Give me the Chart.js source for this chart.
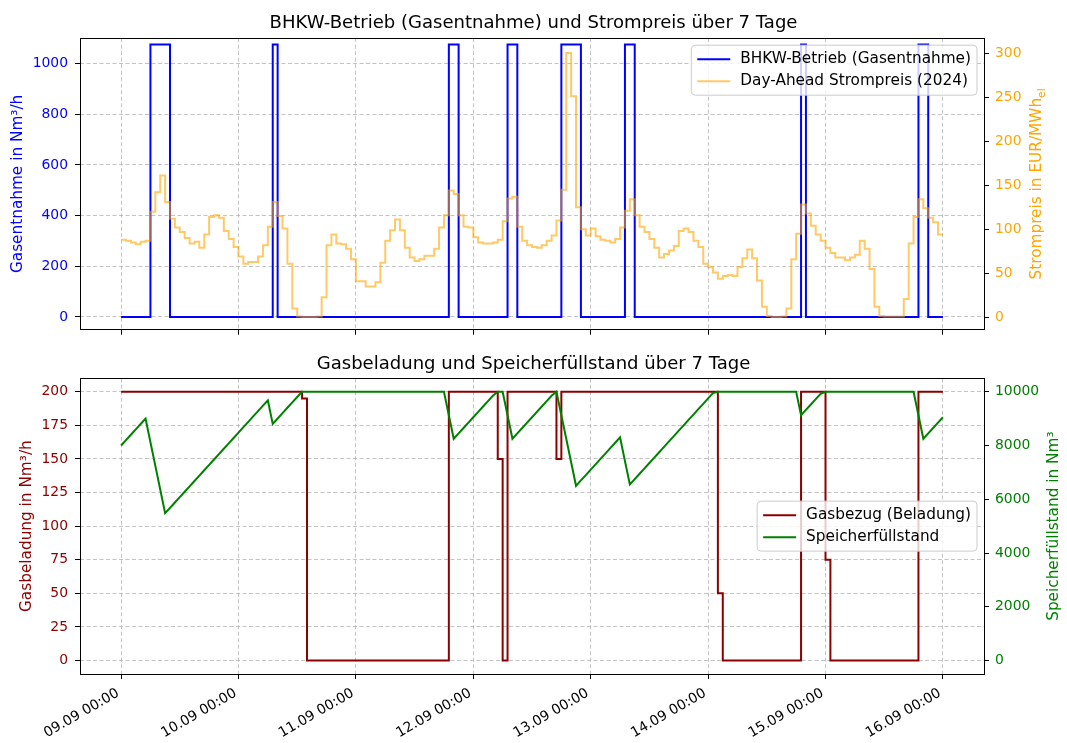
<!DOCTYPE html>
<html>
<head>
<meta charset="utf-8">
<script src="https://cdn.jsdelivr.net/npm/chart.js@4.4.1/dist/chart.umd.min.js"></script>
<style>
  html, body { margin: 0; padding: 0; background: #fff; }
  #wrap { position: relative; width: 1067px; height: 743px; }
  #top { position: absolute; left: 0; top: 0; }
  #bottom { position: absolute; left: 0; top: 345px; }
</style>
</head>
<body>
<div id="wrap">
  <canvas id="top" width="1067" height="345"></canvas>
  <canvas id="bottom" width="1067" height="398"></canvas>
</div>
<script>
// x axis: hours since 09.09 00:00, one value per hour (0..168)
const dayTicks = [0, 24, 48, 72, 96, 120, 144, 168];
const dayLabels = ['09.09 00:00', '10.09 00:00', '11.09 00:00', '12.09 00:00',
                   '13.09 00:00', '14.09 00:00', '15.09 00:00', '16.09 00:00'];

const gasTicks = [0, 200, 400, 600, 800, 1000];
const priceTicks = [0, 50, 100, 150, 200, 250, 300];
const chargeTicks = [0, 25, 50, 75, 100, 125, 150, 175, 200];
const storeTicks = [0, 2000, 4000, 6000, 8000, 10000];

// BHKW gas draw in Nm³/h, one row per day
const bhkw = [
  0, 0, 0, 0, 0, 0, 1075, 1075, 1075, 1075, 0, 0, 0, 0, 0, 0, 0, 0, 0, 0, 0, 0, 0, 0,
  0, 0, 0, 0, 0, 0, 0, 1075, 0, 0, 0, 0, 0, 0, 0, 0, 0, 0, 0, 0, 0, 0, 0, 0,
  0, 0, 0, 0, 0, 0, 0, 0, 0, 0, 0, 0, 0, 0, 0, 0, 0, 0, 0, 1075, 1075, 0, 0, 0,
  0, 0, 0, 0, 0, 0, 0, 1075, 1075, 0, 0, 0, 0, 0, 0, 0, 0, 0, 1075, 1075, 1075, 1075, 0, 0,
  0, 0, 0, 0, 0, 0, 0, 1075, 1075, 0, 0, 0, 0, 0, 0, 0, 0, 0, 0, 0, 0, 0, 0, 0,
  0, 0, 0, 0, 0, 0, 0, 0, 0, 0, 0, 0, 0, 0, 0, 0, 0, 0, 0, 1075, 0, 0, 0, 0,
  0, 0, 0, 0, 0, 0, 0, 0, 0, 0, 0, 0, 0, 0, 0, 0, 0, 0, 0, 1075, 1075, 0, 0, 0,
  0
];

// day-ahead price in EUR/MWh_el
const price = [
  88, 87, 85, 83, 86, 87, 120, 142, 161, 131, 112, 102, 97, 90, 84, 86, 79, 94, 114, 116, 113, 98, 89, 80,
  69, 61, 63, 63, 69, 82, 103, 131, 115, 101, 61, 10, 1, 0.5, 0.5, 0.5, 1, 23, 82, 94, 84, 83, 78, 66,
  41, 41, 35, 35, 40, 62, 87, 99, 111, 99, 79, 68, 64, 66, 70, 70, 78, 102, 116, 144, 140, 116, 103, 102,
  91, 85, 84, 84, 85, 88, 109, 135, 137, 103, 87, 82, 80, 79, 82, 87, 93, 110, 145, 300, 251, 125, 100, 93,
  101, 92, 88, 87, 85, 89, 102, 121, 134, 116, 103, 97, 89, 79, 68, 72, 76, 81, 98, 101, 97, 87, 80, 61,
  57, 51, 44, 47, 48, 47, 57, 67, 77, 67, 42, 12, 1.5, 0.5, 0.5, 1, 10, 66, 95, 128, 118, 104, 94, 87,
  79, 73, 68, 68, 65, 68, 71, 87, 78, 55, 12, 1.5, 1, 1, 1, 1, 21, 84, 114, 134, 124, 113, 108, 94,
  94
];

// gas purchase (charging) in Nm³/h
const charge = [
  200, 200, 200, 200, 200, 200, 200, 200, 200, 200, 200, 200, 200, 200, 200, 200, 200, 200, 200, 200, 200, 200, 200, 200,
  200, 200, 200, 200, 200, 200, 200, 200, 200, 200, 200, 200, 200, 195, 0, 0, 0, 0, 0, 0, 0, 0, 0, 0,
  0, 0, 0, 0, 0, 0, 0, 0, 0, 0, 0, 0, 0, 0, 0, 0, 0, 0, 0, 200, 200, 200, 200, 200,
  200, 200, 200, 200, 200, 150, 0, 200, 200, 200, 200, 200, 200, 200, 200, 200, 200, 150, 200, 200, 200, 200, 200, 200,
  200, 200, 200, 200, 200, 200, 200, 200, 200, 200, 200, 200, 200, 200, 200, 200, 200, 200, 200, 200, 200, 200, 200, 200,
  200, 200, 50, 0, 0, 0, 0, 0, 0, 0, 0, 0, 0, 0, 0, 0, 0, 0, 0, 200, 200, 200, 200, 200,
  75, 0, 0, 0, 0, 0, 0, 0, 0, 0, 0, 0, 0, 0, 0, 0, 0, 0, 0, 200, 200, 200, 200, 200,
  200
];

// storage level in Nm³
const storage = [
  8000, 8200, 8400, 8600, 8800, 9000, 8120, 7240, 6360, 5480, 5680, 5880, 6080, 6280, 6480, 6680, 6880, 7080, 7280, 7480, 7680, 7880, 8080, 8280,
  8480, 8680, 8880, 9080, 9280, 9480, 9680, 8805, 9005, 9205, 9405, 9605, 9805, 10000, 10000, 10000, 10000, 10000, 10000, 10000, 10000, 10000, 10000, 10000,
  10000, 10000, 10000, 10000, 10000, 10000, 10000, 10000, 10000, 10000, 10000, 10000, 10000, 10000, 10000, 10000, 10000, 10000, 10000, 9125, 8250, 8450, 8650, 8850,
  9050, 9250, 9450, 9650, 9850, 10000, 10000, 9125, 8250, 8450, 8650, 8850, 9050, 9250, 9450, 9650, 9850, 10000, 9125, 8250, 7375, 6500, 6700, 6900,
  7100, 7300, 7500, 7700, 7900, 8100, 8300, 7425, 6550, 6750, 6950, 7150, 7350, 7550, 7750, 7950, 8150, 8350, 8550, 8750, 8950, 9150, 9350, 9550,
  9750, 9950, 10000, 10000, 10000, 10000, 10000, 10000, 10000, 10000, 10000, 10000, 10000, 10000, 10000, 10000, 10000, 10000, 10000, 9125, 9325, 9525, 9725, 9925,
  10000, 10000, 10000, 10000, 10000, 10000, 10000, 10000, 10000, 10000, 10000, 10000, 10000, 10000, 10000, 10000, 10000, 10000, 10000, 9125, 8250, 8450, 8650, 8850,
  9050
];

const FAMILY = "'DejaVu Sans', sans-serif";
const tickFont = { family: FAMILY, size: 13.9, lineHeight: 1.2 };
const labelFont = { family: FAMILY, size: 15.3, lineHeight: 1.2 };
const titleFont = { family: FAMILY, size: 18.06, weight: 'normal', lineHeight: 1.2 };
const DASH = [4, 2.5];

const pts = arr => arr.map((v, i) => ({ x: i, y: v }));
const fixTicks = list => s => { s.ticks = list.map(v => ({ value: v })); };
const plain = v => String(v);

const grid = { color: 'rgba(176,176,176,0.75)', lineWidth: 1, tickColor: '#000', tickLength: 5, tickWidth: 1, tickBorderDash: [] };
const sideGrid = { drawOnChartArea: false, tickColor: '#000', tickLength: 5, tickWidth: 1 };

// black box around the plot area, like matplotlib spines
const frame = {
  id: 'frame',
  afterDatasetsDraw(chart) {
    const { ctx, chartArea: a } = chart;
    ctx.save();
    ctx.strokeStyle = '#000';
    ctx.lineWidth = 1;
    ctx.strokeRect(Math.round(a.left) + 0.5, Math.round(a.top) + 0.5,
      Math.round(a.right - a.left), Math.round(a.bottom - a.top));
    ctx.restore();
  }
};

// framed legend inside the plot area
const boxLegend = {
  id: 'boxLegend',
  afterDraw(chart, args, opts) {
    const { ctx, chartArea: a } = chart;
    const sets = chart.data.datasets;
    ctx.save();
    ctx.font = `15.3px ${FAMILY}`;
    const textW = Math.max(...sets.map(d => ctx.measureText(d.label).width));
    const w = 49 + textW + 6;
    const h = 28 + 22 * (sets.length - 1);
    const x = a.right - 7 - w;
    const y = opts.place === 'center' ? (a.top + a.bottom) / 2 - h / 2 : a.top + 7;
    ctx.beginPath();
    if (ctx.roundRect) ctx.roundRect(x, y, w, h, 4); else ctx.rect(x, y, w, h);
    ctx.fillStyle = 'rgba(255,255,255,0.8)';
    ctx.fill();
    ctx.strokeStyle = '#cccccc';
    ctx.lineWidth = 1;
    ctx.stroke();
    sets.forEach((d, i) => {
      const cy = y + 14 + 22 * i;
      ctx.strokeStyle = d.borderColor;
      ctx.lineWidth = 2;
      ctx.beginPath();
      ctx.moveTo(x + 6, cy);
      ctx.lineTo(x + 39, cy);
      ctx.stroke();
      ctx.fillStyle = '#000';
      ctx.textBaseline = 'middle';
      ctx.textAlign = 'left';
      ctx.fillText(d.label, x + 49, cy);
    });
    ctx.restore();
  }
};

// right-hand axis title, reading bottom to top, with optional subscript
const rightTitle = {
  id: 'rightTitle',
  afterDraw(chart, args, opts) {
    const s = chart.scales[opts.axis];
    const ctx = chart.ctx;
    ctx.save();
    ctx.font = `13.9px ${FAMILY}`;
    const tickW = Math.max(...s.ticks.map(t => ctx.measureText(String(t.label)).width));
    const baseX = s.left + 11 + tickW + 19;
    const cy = (s.top + s.bottom) / 2;
    ctx.font = `15.3px ${FAMILY}`;
    const w1 = ctx.measureText(opts.text).width;
    ctx.font = `10.7px ${FAMILY}`;
    const w2 = opts.sub ? ctx.measureText(opts.sub).width : 0;
    ctx.translate(baseX, cy);
    ctx.rotate(-Math.PI / 2);
    ctx.fillStyle = opts.color;
    ctx.textAlign = 'left';
    ctx.textBaseline = 'alphabetic';
    ctx.font = `15.3px ${FAMILY}`;
    const x0 = -(w1 + w2) / 2;
    ctx.fillText(opts.text, x0, 0);
    if (opts.sub) {
      ctx.font = `10.7px ${FAMILY}`;
      ctx.fillText(opts.sub, x0 + w1, 4);
    }
    ctx.restore();
  }
};

function xScale(showLabels, height) {
  return {
    type: 'linear',
    min: -8.4,
    max: 176.4,
    afterBuildTicks: fixTicks(dayTicks),
    afterFit: s => { s.height = height; },
    grid: grid,
    border: { display: false, dash: DASH },
    ticks: {
      display: showLabels,
      autoSkip: false,
      minRotation: 30,
      maxRotation: 30,
      padding: 6,
      labelOffset: -3,
      color: '#000',
      font: tickFont,
      callback: v => dayLabels[dayTicks.indexOf(v)]
    }
  };
}

new Chart(document.getElementById('top'), {
  type: 'line',
  data: {
    datasets: [
      {
        label: 'BHKW-Betrieb (Gasentnahme)',
        data: pts(bhkw),
        yAxisID: 'yGas',
        borderColor: 'blue',
        borderWidth: 2,
        stepped: true,
        pointRadius: 0,
        order: 2
      },
      {
        label: 'Day-Ahead Strompreis (2024)',
        data: pts(price),
        yAxisID: 'yPrice',
        borderColor: 'rgba(255,165,0,0.6)',
        borderWidth: 2,
        stepped: true,
        pointRadius: 0,
        order: 1
      }
    ]
  },
  options: {
    responsive: false,
    animation: false,
    devicePixelRatio: 1,
    events: [],
    layout: { padding: 0 },
    scales: {
      x: xScale(false, 10),
      yGas: {
        position: 'left',
        min: -50,
        max: 1100,
        afterBuildTicks: fixTicks(gasTicks),
        afterFit: s => { s.width = 80; },
        grid: grid,
        border: { display: false, dash: DASH },
        ticks: { color: 'blue', font: tickFont, padding: 7, callback: plain },
        title: { display: true, text: 'Gasentnahme in Nm³/h', color: 'blue', font: labelFont, padding: { top: 8.8, bottom: 0 } }
      },
      yPrice: {
        position: 'right',
        min: -13.9,
        max: 316.9,
        afterBuildTicks: fixTicks(priceTicks),
        afterFit: s => { s.width = 83; },
        grid: sideGrid,
        border: { display: false },
        ticks: { color: 'orange', font: tickFont, padding: 6, callback: plain }
      }
    },
    plugins: {
      legend: { display: false },
      tooltip: { enabled: false },
      title: {
        display: true,
        text: 'BHKW-Betrieb (Gasentnahme) und Strompreis über 7 Tage',
        color: '#000',
        font: titleFont,
        padding: { top: 12.2, bottom: 4.3 }
      },
      boxLegend: { place: 'top' },
      rightTitle: { axis: 'yPrice', text: 'Strompreis in EUR/MWh', sub: 'el', color: 'orange' }
    }
  },
  plugins: [frame, boxLegend, rightTitle]
});

new Chart(document.getElementById('bottom'), {
  type: 'line',
  data: {
    datasets: [
      {
        label: 'Gasbezug (Beladung)',
        data: pts(charge),
        yAxisID: 'yCharge',
        borderColor: '#8b0000',
        borderWidth: 2,
        stepped: true,
        pointRadius: 0,
        order: 2
      },
      {
        label: 'Speicherfüllstand',
        data: pts(storage),
        yAxisID: 'yStore',
        borderColor: '#008000',
        borderWidth: 2,
        pointRadius: 0,
        tension: 0,
        order: 1
      }
    ]
  },
  options: {
    responsive: false,
    animation: false,
    devicePixelRatio: 1,
    events: [],
    layout: { padding: 0 },
    scales: {
      x: xScale(true, 69),
      yCharge: {
        position: 'left',
        min: -10,
        max: 210,
        afterBuildTicks: fixTicks(chargeTicks),
        afterFit: s => { s.width = 80; },
        grid: grid,
        border: { display: false, dash: DASH },
        ticks: { color: '#8b0000', font: tickFont, padding: 7, callback: plain },
        title: { display: true, text: 'Gasbeladung in Nm³/h', color: '#8b0000', font: labelFont, padding: { top: 17.8, bottom: 0 } }
      },
      yStore: {
        position: 'right',
        min: -500,
        max: 10500,
        afterBuildTicks: fixTicks(storeTicks),
        afterFit: s => { s.width = 83; },
        grid: sideGrid,
        border: { display: false },
        ticks: { color: '#008000', font: tickFont, padding: 6, callback: plain }
      }
    },
    plugins: {
      legend: { display: false },
      tooltip: { enabled: false },
      title: {
        display: true,
        text: 'Gasbeladung und Speicherfüllstand über 7 Tage',
        color: '#000',
        font: titleFont,
        padding: { top: 8.2, bottom: 3.4 }
      },
      boxLegend: { place: 'center' },
      rightTitle: { axis: 'yStore', text: 'Speicherfüllstand in Nm³', color: '#008000' }
    }
  },
  plugins: [frame, boxLegend, rightTitle]
});
</script>
</body>
</html>
